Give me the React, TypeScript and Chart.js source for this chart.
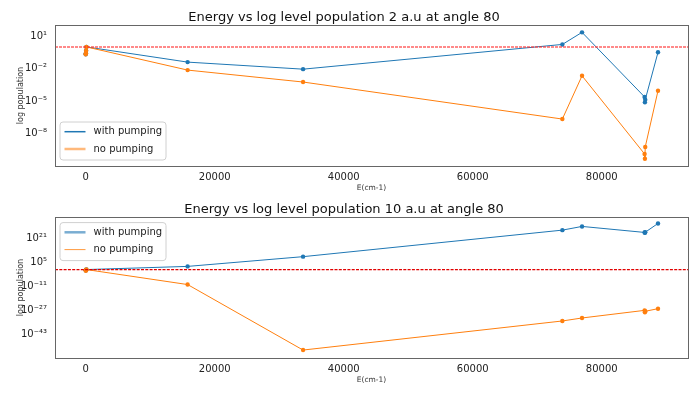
import React, { useEffect, useRef } from "react";
import { Chart, registerables } from "chart.js";
Chart.register(...registerables);

// Energies (cm-1) of the levels
const energies = [0, 30, 60, 110, 15800, 33700, 73900, 76950, 86650, 86700, 86750, 88730];

// Chart 1: 2 a.u
const topWithPumping = [0.21, 0.26, 0.45, 1.0, 0.04, 0.009, 1.7, 22, 2.5e-5, 7.9e-6, 1.4e-5, 0.32];
const topNoPumping = [0.21, 0.26, 0.45, 1.0, 0.0074, 5.9e-4, 2.3e-7, 2.2e-3, 1.4e-10, 5.1e-11, 6.2e-10, 9.3e-5];

// Chart 2: 10 a.u
const bottomWithPumping = [0.3, 0.4, 0.6, 1.0, 130, 4e8, 2e26, 6e28, 6e24, 4e24, 8e24, 6e30];
const bottomNoPumping = [0.2, 0.25, 0.4, 1.0, 1e-10, 2e-54, 5e-35, 5e-33, 6e-28, 3e-29, 1.5e-28, 8e-27];

const xTicks = [0, 20000, 40000, 60000, 80000];
const topYTicks = [1e1, 1e-2, 1e-5, 1e-8];
const topYLabels = ["10¹", "10⁻²", "10⁻⁵", "10⁻⁸"];
const bottomYTicks = [1e21, 1e5, 1e-11, 1e-27, 1e-43];
const bottomYLabels = ["10²¹", "10⁵", "10⁻¹¹", "10⁻²⁷", "10⁻⁴³"];

const seriesNames = ["with pumping", "no pumping"];
const refLevel = 1;

const BLUE = "#1f77b4";
const ORANGE = "#ff7f0e";
const FONT = "'DejaVu Sans', sans-serif";

const framePlugin = {
  id: "frame",
  afterDatasetsDraw(chart: any) {
    const { ctx, chartArea: a, scales } = chart;
    const o = chart.options.plugins.refline;
    ctx.save();
    // reference line
    const y = scales.y.getPixelForValue(o.value);
    ctx.strokeStyle = o.color;
    ctx.lineWidth = o.width;
    ctx.setLineDash(o.dash);
    ctx.beginPath();
    ctx.moveTo(a.left, y);
    ctx.lineTo(a.right, y);
    ctx.stroke();
    ctx.setLineDash([]);
    // frame
    ctx.strokeStyle = "#666";
    ctx.lineWidth = 1;
    ctx.strokeRect(Math.round(a.left) + 0.5, Math.round(a.top) + 0.5, Math.round(a.right - a.left), Math.round(a.bottom - a.top));
    ctx.restore();
  },
};

const legendPlugin = {
  id: "boxlegend",
  afterDraw(chart: any) {
    const { ctx, chartArea: a } = chart;
    const o = chart.options.plugins.boxlegend;
    const w = 106;
    const h = 38;
    const x = a.left + 5;
    const y = o.pos === "bottom" ? a.bottom - 6 - h : a.top + 5.5;
    ctx.save();
    ctx.fillStyle = "rgba(255,255,255,0.85)";
    ctx.strokeStyle = "#d0d0d0";
    ctx.lineWidth = 1;
    const r = 3;
    ctx.beginPath();
    ctx.moveTo(x + r, y);
    ctx.lineTo(x + w - r, y);
    ctx.arcTo(x + w, y, x + w, y + r, r);
    ctx.lineTo(x + w, y + h - r);
    ctx.arcTo(x + w, y + h, x + w - r, y + h, r);
    ctx.lineTo(x + r, y + h);
    ctx.arcTo(x, y + h, x, y + h - r, r);
    ctx.lineTo(x, y + r);
    ctx.arcTo(x, y, x + r, y, r);
    ctx.closePath();
    ctx.fill();
    ctx.stroke();
    const rows = [9.7, 27];
    o.items.forEach((it: any, i: number) => {
      const ry = y + rows[i];
      ctx.strokeStyle = it.color;
      ctx.lineWidth = it.width;
      ctx.beginPath();
      ctx.moveTo(x + 4.5, ry);
      ctx.lineTo(x + 25.5, ry);
      ctx.stroke();
      ctx.fillStyle = "#222";
      ctx.font = `10px ${FONT}`;
      ctx.textBaseline = "middle";
      ctx.textAlign = "left";
      ctx.fillText(it.label, x + 33.5, ry);
    });
    ctx.restore();
  },
};

function makeConfig(title: string, w: number[], n: number[], yMin: number, yMax: number, yTicks: number[], yLabels: string[], legendPos: string, refStyle: any, legendItems: any[]) {
  const toPts = (vals: number[]) => energies.map((e, i) => ({ x: e, y: vals[i] }));
  return {
    type: "line",
    data: {
      datasets: [
        { label: seriesNames[0], order: 1, data: toPts(w), borderColor: BLUE, backgroundColor: BLUE, borderWidth: 1, pointRadius: 2.2, pointBorderWidth: 0, pointHoverRadius: 2.2 },
        { label: seriesNames[1], order: 0, data: toPts(n), borderColor: ORANGE, backgroundColor: ORANGE, borderWidth: 1, pointRadius: 2.2, pointBorderWidth: 0, pointHoverRadius: 2.2 },
      ],
    },
    options: {
      animation: false,
      responsive: false,
      layout: { padding: { left: 0, right: 12, top: 0, bottom: 0 } },
      plugins: {
        legend: { display: false },
        tooltip: { enabled: false },
        title: { display: true, text: title, color: "#111", font: { family: FONT, size: 13, weight: "normal" }, padding: { top: 9.5, bottom: 0 } },
        refline: refStyle,
        boxlegend: { pos: legendPos, items: legendItems },
      },
      scales: {
        x: {
          type: "linear",
          min: -4760,
          max: 93380,
          grid: { display: false, drawTicks: false },
          border: { display: false },
          afterBuildTicks: (s: any) => { s.ticks = xTicks.map((v) => ({ value: v })); },
          afterFit: (s: any) => { s.height = 31; },
          ticks: { color: "#222", font: { family: FONT, size: 10 }, padding: 5, maxRotation: 0, callback: (v: any) => String(v) },
          title: { display: true, text: "E(cm-1)", color: "#333", font: { family: FONT, size: 7.5 }, padding: { top: 0, bottom: 4.5 } },
        },
        y: {
          type: "logarithmic",
          min: yMin,
          max: yMax,
          grid: { display: false, drawTicks: false },
          border: { display: false },
          afterBuildTicks: (s: any) => { s.ticks = yTicks.map((v) => ({ value: v })); },
          afterFit: (s: any) => { s.width = 55; },
          ticks: {
            color: "#222",
            font: { family: FONT, size: 10 },
            padding: 8,
            callback: (v: any) => {
              const i = yTicks.findIndex((t) => Math.abs(Math.log10(t) - Math.log10(v)) < 1e-6);
              return i >= 0 ? yLabels[i] : "";
            },
          },
          title: { display: true, text: "log population", color: "#333", font: { family: FONT, size: 8 }, padding: { top: 16, bottom: 0 } },
        },
      },
    },
    plugins: [framePlugin, legendPlugin],
  };
}

function ChartBox({ config, top }: { config: any; top: number }) {
  const ref = useRef<HTMLCanvasElement | null>(null);
  useEffect(() => {
    if (!ref.current) return;
    const c = new Chart(ref.current, config);
    return () => c.destroy();
  }, [config]);
  return (
    <canvas ref={ref} width={700} height={197} style={{ position: "absolute", left: 0, top, width: 700, height: 197 }} />
  );
}

const cfgTop = makeConfig(
  "Energy vs log level population 2 a.u at angle 80",
  topWithPumping,
  topNoPumping,
  Math.pow(10, -10.96),
  Math.pow(10, 2.01),
  topYTicks,
  topYLabels,
  "bottom",
  { value: refLevel, color: "rgba(255,40,40,0.55)", width: 2, dash: [3, 1] },
  [
    { label: seriesNames[0], color: BLUE, width: 1.5 },
    { label: seriesNames[1], color: "rgba(255,127,14,0.55)", width: 2.5 },
  ]
);

const cfgBottom = makeConfig(
  "Energy vs log level population 10 a.u at angle 80",
  bottomWithPumping,
  bottomNoPumping,
  1e-59,
  1e35,
  bottomYTicks,
  bottomYLabels,
  "top",
  { value: refLevel, color: "#e00000", width: 1.2, dash: [3, 1.3] },
  [
    { label: seriesNames[0], color: "rgba(31,119,180,0.6)", width: 2.5 },
    { label: seriesNames[1], color: "rgba(255,127,14,0.8)", width: 1 },
  ]
);

export default function App() {
  return (
    <div style={{ position: "fixed", left: 0, top: 0, width: 700, height: 394, background: "#fff" }}>
      <ChartBox config={cfgTop} top={0} />
      <ChartBox config={cfgBottom} top={192} />
    </div>
  );
}
